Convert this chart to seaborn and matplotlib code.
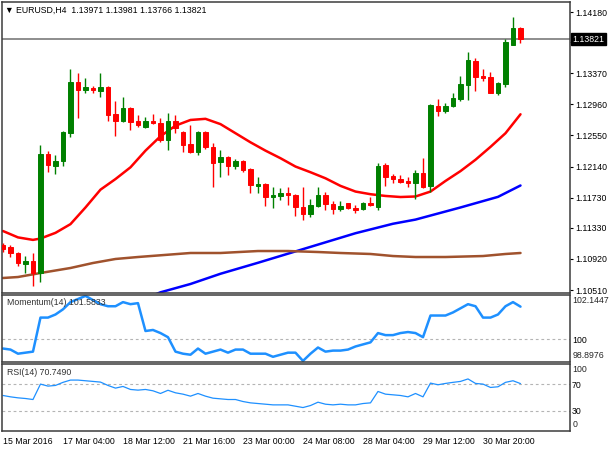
import matplotlib
matplotlib.use("Agg")
import matplotlib.pyplot as plt
import matplotlib.transforms as mtransforms
import seaborn as sns

# H4 bars, 15 Mar 20:00 .. 31 Mar 08:00
opens = [1.11104, 1.11078, 1.10999, 1.10853, 1.10893, 1.10735, 1.12306, 1.12147, 1.12213, 1.12583,
         1.13256, 1.13150, 1.13177, 1.13137, 1.13190, 1.12834, 1.12741, 1.12913, 1.12741, 1.12662,
         1.12741, 1.12715, 1.12490, 1.12741, 1.12596, 1.12438, 1.12332, 1.12596, 1.12398, 1.12200,
         1.12266, 1.12147, 1.12213, 1.12108, 1.11883, 1.11910, 1.11738, 1.11751, 1.11791, 1.11764,
         1.11606, 1.11514, 1.11619, 1.11764, 1.11646, 1.11580, 1.11659, 1.11593, 1.11580, 1.11659,
         1.11606, 1.12160, 1.12015, 1.11976, 1.11949, 1.11923, 1.12055, 1.11883, 1.12939, 1.12873,
         1.12939, 1.13032, 1.13216, 1.13533, 1.13335, 1.13322, 1.13111, 1.13230, 1.13744, 1.13971]
highs = [1.11131, 1.11104, 1.11010, 1.10959, 1.10999, 1.12424, 1.12345, 1.12292, 1.12610, 1.13428,
         1.13375, 1.13309, 1.13203, 1.13375, 1.13200, 1.13005, 1.13058, 1.12926, 1.12820, 1.12794,
         1.12834, 1.12781, 1.12847, 1.12820, 1.12605, 1.12688, 1.12605, 1.12605, 1.12451, 1.12358,
         1.12275, 1.12240, 1.12222, 1.12115, 1.12002, 1.11923, 1.11870, 1.11857, 1.11870, 1.11775,
         1.11870, 1.11712, 1.11870, 1.11804, 1.11685, 1.11685, 1.11665, 1.11632, 1.11672, 1.11738,
         1.12187, 1.12187, 1.12042, 1.12028, 1.12002, 1.12094, 1.12253, 1.12960, 1.13032, 1.12979,
         1.13111, 1.13335, 1.13652, 1.13573, 1.13428, 1.13388, 1.13256, 1.13824, 1.14114, 1.13981]
lows = [1.11012, 1.10946, 1.10827, 1.10735, 1.10563, 1.10616, 1.12068, 1.12042, 1.12147, 1.12530,
        1.12781, 1.13111, 1.13111, 1.13058, 1.12741, 1.12543, 1.12730, 1.12622, 1.12662, 1.12655,
        1.12705, 1.12464, 1.12358, 1.12583, 1.12332, 1.12319, 1.12292, 1.12372, 1.11870, 1.12002,
        1.12028, 1.12108, 1.12068, 1.11791, 1.11791, 1.11619, 1.11593, 1.11698, 1.11632, 1.11487,
        1.11434, 1.11474, 1.11610, 1.11566, 1.11514, 1.11553, 1.11580, 1.11527, 1.11566, 1.11619,
        1.11566, 1.11883, 1.11923, 1.11923, 1.11870, 1.11712, 1.11857, 1.11804, 1.12807, 1.12847,
        1.12926, 1.13005, 1.13018, 1.13137, 1.13269, 1.13105, 1.13084, 1.13190, 1.13740, 1.13766]
closes = [1.11052, 1.10999, 1.10866, 1.10893, 1.10735, 1.12306, 1.12160, 1.12213, 1.12596, 1.13256,
          1.13150, 1.13190, 1.13150, 1.13190, 1.12820, 1.12741, 1.12913, 1.12728, 1.12688, 1.12741,
          1.12715, 1.12490, 1.12741, 1.12649, 1.12424, 1.12332, 1.12596, 1.12398, 1.12187, 1.12266,
          1.12147, 1.12213, 1.12094, 1.11896, 1.11910, 1.11738, 1.11764, 1.11791, 1.11764, 1.11606,
          1.11514, 1.11632, 1.11764, 1.11646, 1.11580, 1.11619, 1.11593, 1.11566, 1.11659, 1.11632,
          1.12147, 1.12002, 1.11976, 1.11936, 1.11923, 1.12055, 1.11870, 1.12952, 1.12873, 1.12939,
          1.13045, 1.13230, 1.13546, 1.13322, 1.13309, 1.13111, 1.13243, 1.13784, 1.13971, 1.13821]

# moving averages, read at selected bars
ma_red_bar = [0, 2, 4, 5, 7, 9, 11, 13, 15, 17, 19, 21, 23, 25, 27, 29, 31, 33, 35, 37, 39, 41,
              43, 45, 47, 49, 51, 53, 55, 57, 59, 61, 63, 65, 67, 69]
ma_red = [1.11289, 1.11205, 1.11172, 1.11190, 1.11265, 1.11380, 1.11600, 1.11835, 1.11975, 1.12130,
          1.12350, 1.12540, 1.12680, 1.12755, 1.12770, 1.12700, 1.12580, 1.12460, 1.12350, 1.12250,
          1.12140, 1.12065, 1.11985, 1.11885, 1.11810, 1.11775, 1.11752, 1.11738, 1.11745, 1.11810,
          1.11950, 1.12080, 1.12230, 1.12400, 1.12580, 1.12830]
ma_blue_bar = [20, 21, 25, 29, 34, 38, 43, 47, 52, 55, 58, 61, 66, 69]
ma_blue = [1.10440, 1.10480, 1.10590, 1.10725, 1.10870, 1.10990, 1.11140, 1.11260, 1.11385,
           1.11440, 1.11520, 1.11600, 1.11740, 1.11890]
ma_brown_bar = [0, 2, 5, 9, 12, 15, 18, 25, 29, 34, 38, 42, 45, 49, 52, 55, 59, 64, 67, 69]
ma_brown = [1.10669, 1.10682, 1.10735, 1.10801, 1.10867, 1.10920, 1.10946, 1.10999, 1.10999,
            1.11025, 1.11025, 1.11012, 1.10999, 1.10986, 1.10959, 1.10946, 1.10946, 1.10959,
            1.10986, 1.10999]

momentum = [99.55, 99.50, 99.30, 99.35, 99.40, 101.05, 101.05, 101.20, 101.45, 101.80,
            101.95, 102.10, 101.90, 101.70, 101.60, 101.60, 101.80, 101.70, 101.75, 100.40,
            100.45, 100.30, 100.10, 99.40, 99.30, 99.25, 99.55, 99.30, 99.40, 99.50,
            99.35, 99.50, 99.50, 99.30, 99.30, 99.30, 99.15, 99.25, 99.35, 99.35,
            98.95, 99.30, 99.60, 99.40, 99.45, 99.45, 99.50, 99.65, 99.75, 99.85,
            100.30, 100.20, 100.20, 100.30, 100.35, 100.30, 100.10, 101.15, 101.15, 101.15,
            101.30, 101.50, 101.70, 101.60, 101.05, 101.05, 101.20, 101.60, 101.80, 101.58]
rsi = [53, 51, 49.5, 48.5, 47, 70, 67, 68, 72.6, 76, 76, 75, 74, 73, 68, 64, 66.5, 62, 61, 62,
       60, 56, 60.8, 57, 55, 52, 56, 52, 49, 48, 47, 47, 44, 42, 41, 40, 39, 39, 39, 37,
       35, 38, 43, 40, 39, 40, 39, 39, 41, 42, 59, 55, 54, 53, 51, 56, 51, 71.5, 69, 71,
       72.6, 74, 77.7, 71, 70, 65, 66, 72.6, 75, 70.749]

price_ticks = [1.14180, 1.13780, 1.13370, 1.12960, 1.12550, 1.12140, 1.11730, 1.11330, 1.10920, 1.10510]
date_ticks = [0, 8, 16, 24, 32, 40, 48, 56, 64]
date_labels = ["15 Mar 2016", "17 Mar 04:00", "18 Mar 12:00", "21 Mar 16:00", "23 Mar 00:00",
               "24 Mar 08:00", "28 Mar 04:00", "29 Mar 12:00", "30 Mar 20:00"]

sns.set_style("white")
plt.rcParams["font.family"] = ["Liberation Sans", "DejaVu Sans"]
FS = 6.3
UP, DOWN = "#008000", "#ff0000"
FRAME = "#3c3c3c"

fig = plt.figure(figsize=(6.1, 4.5), dpi=100)
left, width = 2 / 610, 568 / 610
ax = fig.add_axes([left, 1 - 293 / 450, width, 291 / 450])
ax_m = fig.add_axes([left, 1 - 362 / 450, width, 67 / 450])
ax_r = fig.add_axes([left, 1 - 431 / 450, width, 67 / 450])

bars = list(range(len(closes)))
colors = [UP if c >= o else DOWN for o, c in zip(opens, closes)]
ax.vlines(bars, lows, highs, colors=colors, linewidth=1, zorder=3)
ax.bar(bars, [c - o for o, c in zip(opens, closes)], bottom=opens, width=0.62,
       color=colors, edgecolor=colors, linewidth=0.7, zorder=4)

sns.lineplot(x=ma_red_bar, y=ma_red, ax=ax, color="#ff0000", linewidth=1.8, zorder=2)
sns.lineplot(x=ma_blue_bar, y=ma_blue, ax=ax, color="#0000ff", linewidth=1.8, zorder=2)
sns.lineplot(x=ma_brown_bar, y=ma_brown, ax=ax, color="#a0522d", linewidth=1.8, zorder=2)

last = closes[-1]
ax.axhline(last, color="#7a7a7a", linewidth=1.2, zorder=1)
ax.set_ylim(1.10471, 1.14312)
ax.set_yticks(price_ticks)
ax.set_yticklabels([f"{v:.5f}" for v in price_ticks])
trans = mtransforms.blended_transform_factory(ax.transAxes, ax.transData)
ax.text(1.004, last, f"{last:.5f}", transform=trans, ha="left", va="center", fontsize=FS,
        color="white", zorder=10, clip_on=False,
        bbox=dict(boxstyle="square,pad=0.18", facecolor="black", edgecolor="black"))
ax.text(0.006, 0.973, "\u25bc EURUSD,H4  1.13971 1.13981 1.13766 1.13821", transform=ax.transAxes,
        ha="left", va="center", fontsize=FS, color="black")

sns.lineplot(x=bars, y=momentum, ax=ax_m, color="#1e90ff", linewidth=1.8)
ax_m.axhline(100, color="#b4b4b4", linewidth=0.8, linestyle=(0, (2.5, 2.5)), zorder=0)
ax_m.set_ylim(98.8976, 102.1447)
ax_m.set_yticks([100])
ax_m.set_yticklabels(["100"])
ax_m.text(1.004, 0.985, "102.1447", transform=ax_m.transAxes, ha="left", va="top", fontsize=FS)
ax_m.text(1.004, 0.03, "98.8976", transform=ax_m.transAxes, ha="left", va="bottom", fontsize=FS)
ax_m.text(0.008, 0.89, "Momentum(14) 101.5833", transform=ax_m.transAxes, ha="left", va="center",
          fontsize=FS, color="#333333")

sns.lineplot(x=bars, y=rsi, ax=ax_r, color="#1e90ff", linewidth=0.9)
for lvl in (70, 30):
    ax_r.axhline(lvl, color="#b4b4b4", linewidth=0.8, linestyle=(0, (2.5, 2.5)), zorder=0)
ax_r.set_ylim(0, 100)
ax_r.set_yticks([70, 30])
ax_r.set_yticklabels(["70", "30"])
ax_r.text(1.004, 0.985, "100", transform=ax_r.transAxes, ha="left", va="top", fontsize=FS)
ax_r.text(1.004, 0.03, "0", transform=ax_r.transAxes, ha="left", va="bottom", fontsize=FS)
ax_r.text(0.008, 0.88, "RSI(14) 70.7490", transform=ax_r.transAxes, ha="left", va="center",
          fontsize=FS, color="#333333")
ax_r.set_xticks(date_ticks)
ax_r.set_xticklabels(date_labels)
for lab in ax_r.get_xticklabels():
    lab.set_horizontalalignment("left")

for a in (ax, ax_m, ax_r):
    a.set_xlim(-0.13, 75.6)
    a.yaxis.tick_right()
    a.set_xlabel("")
    a.set_ylabel("")
    for s in a.spines.values():
        s.set_color(FRAME)
        s.set_linewidth(1.1)
    a.tick_params(axis="y", length=2.5, width=0.8, pad=1.5, labelsize=FS, colors="black")
    a.tick_params(axis="x", length=3, width=0.8, pad=1.5, labelsize=FS, colors="black")
ax.tick_params(axis="x", bottom=False, labelbottom=False)
ax_m.tick_params(axis="x", bottom=False, labelbottom=False)
ax_m.tick_params(axis="y", length=0)
ax_r.tick_params(axis="y", length=0)

fig.savefig("out.png", dpi=100)
